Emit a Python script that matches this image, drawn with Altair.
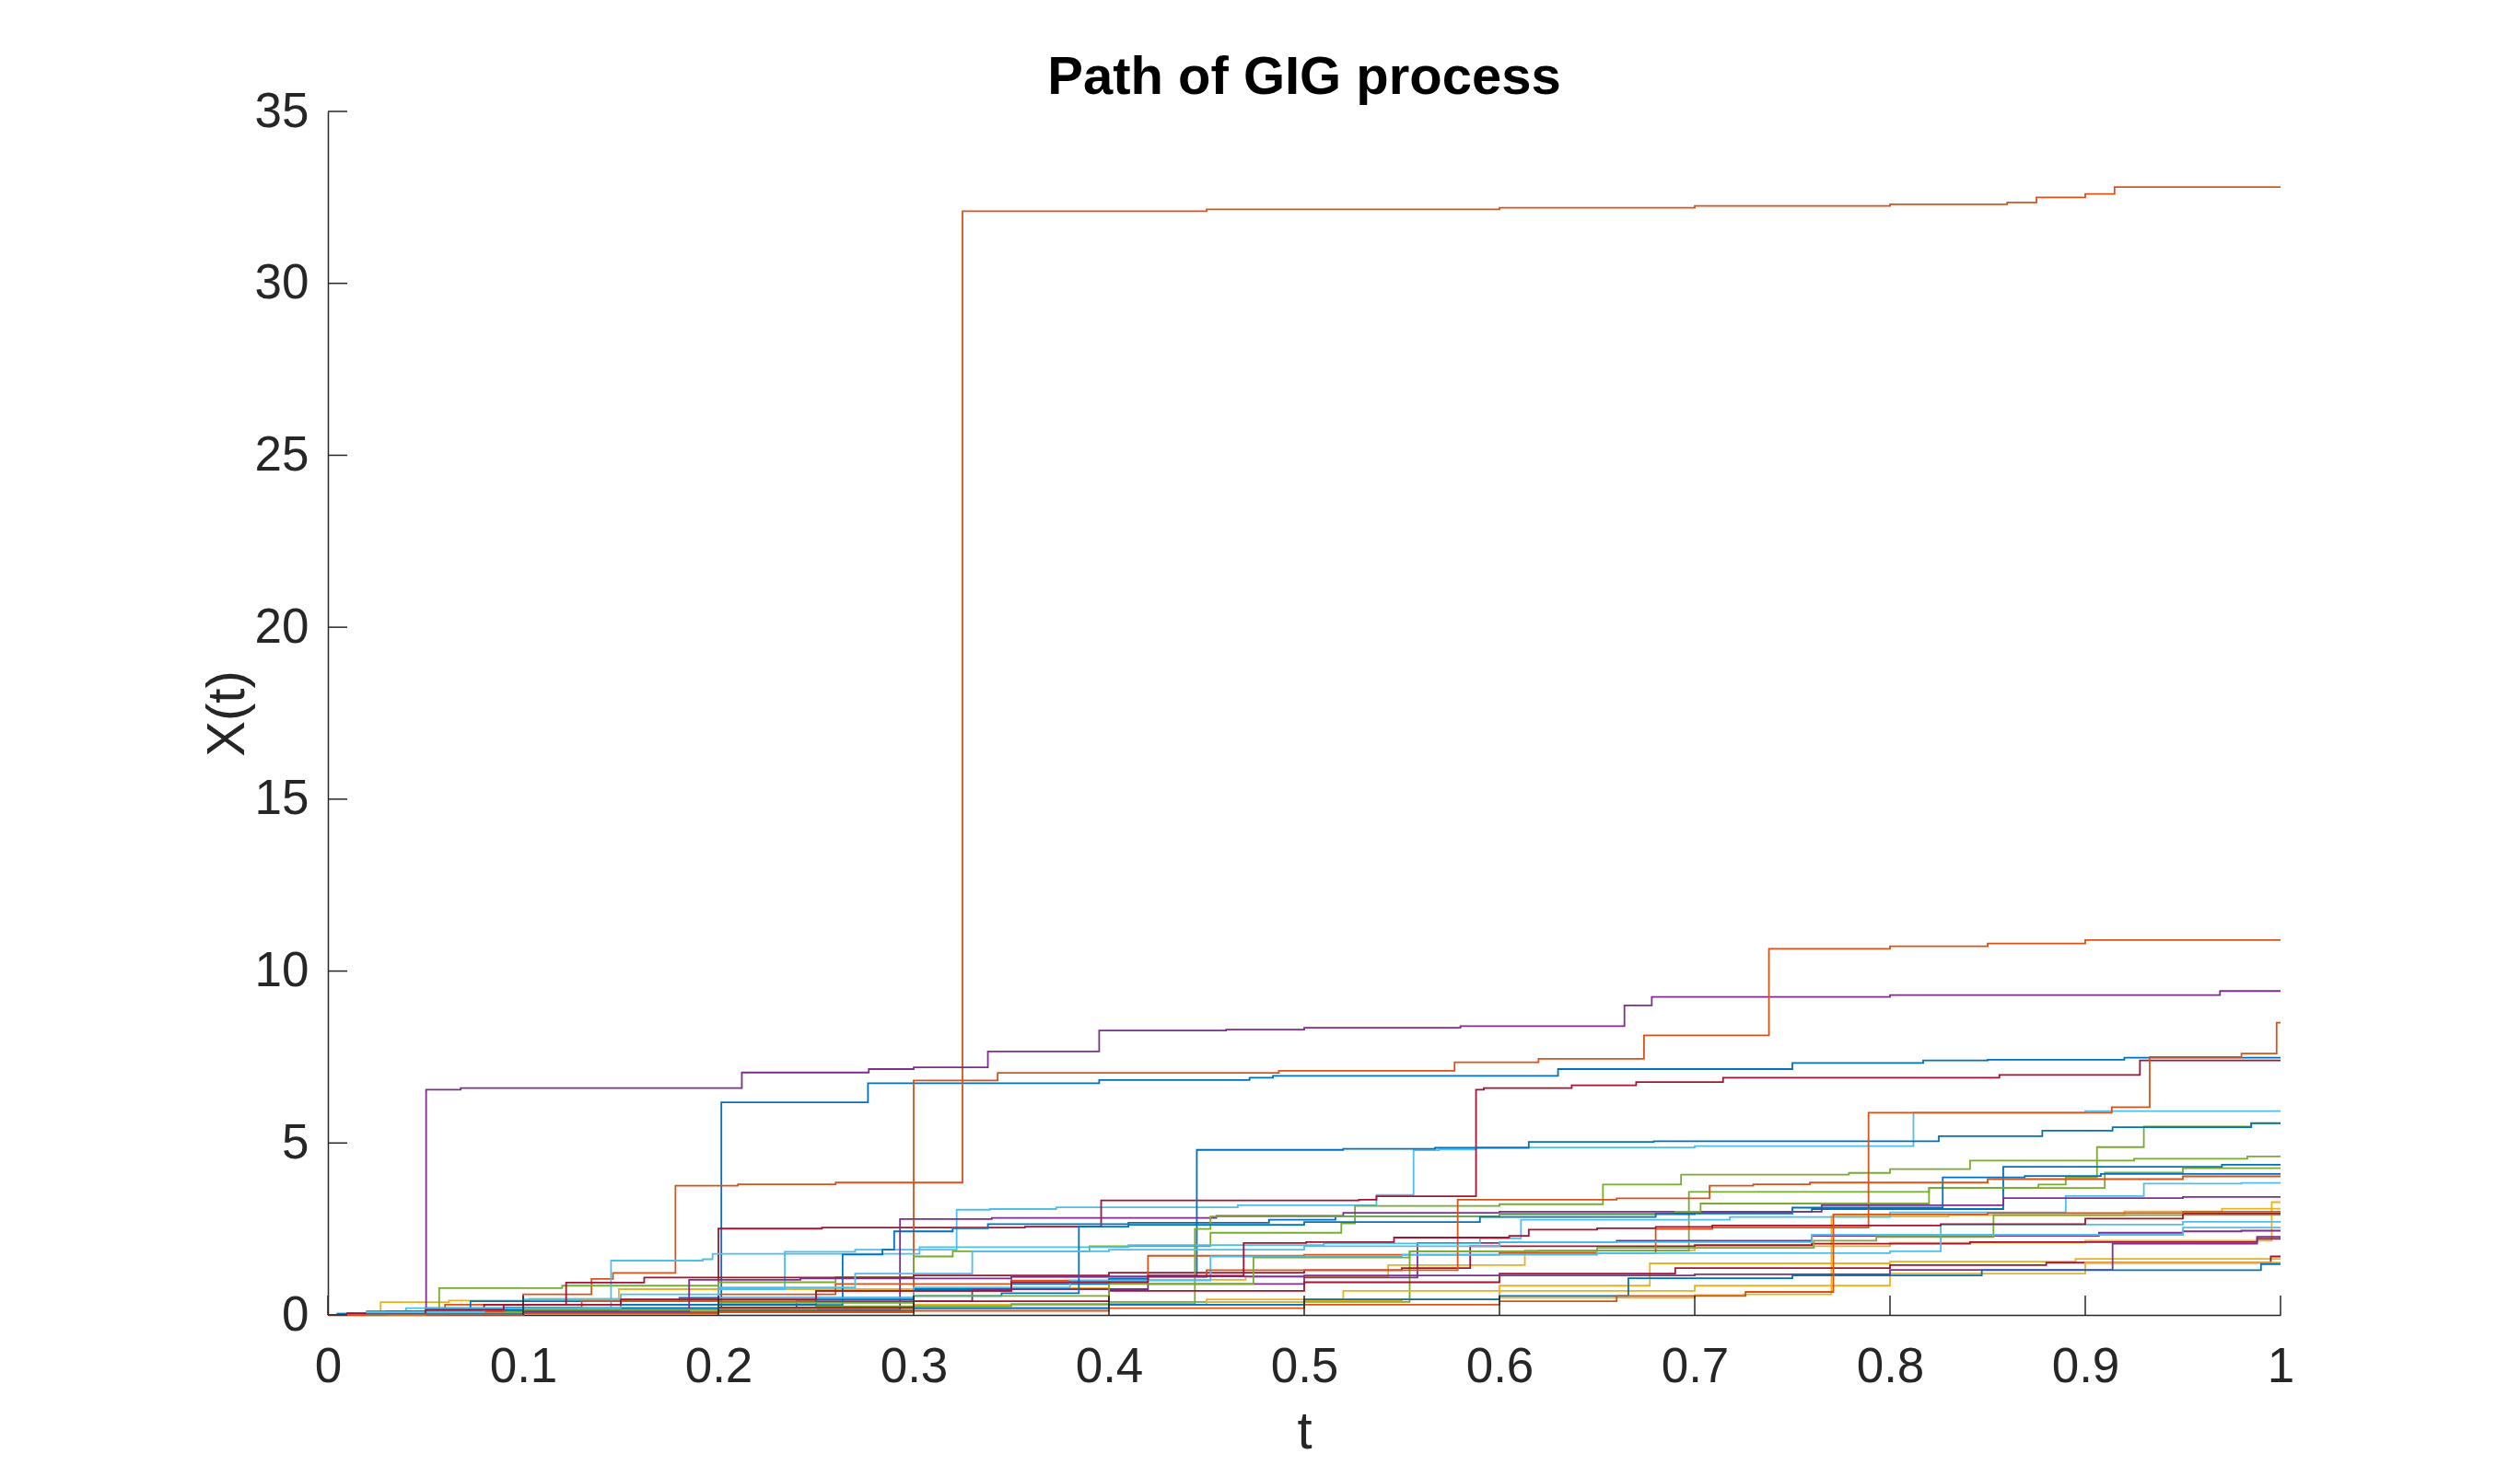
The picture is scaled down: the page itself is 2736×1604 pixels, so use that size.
import altair as alt
import pandas as pd

FONT = "Liberation Sans, Arial, Helvetica, sans-serif"
COLORS = ["#0072BD", "#D95319", "#EDB120", "#7E2F8E", "#77AC30", "#4DBEEE", "#A2142F"]

X_TICKS = [0, 0.1, 0.2, 0.3, 0.4, 0.5, 0.6, 0.7, 0.8, 0.9, 1]
Y_TICKS = [0, 5, 10, 15, 20, 25, 30, 35]

# jump times (t) and value after each jump (v), one pair of lists per path
p01_t = [0.02, 0.09, 0.15, 0.2015, 0.2766, 0.395, 0.472, 0.484, 0.63, 0.75, 0.817, 0.85, 0.92]
p01_v = [0.05, 0.1, 0.14, 6.18, 6.74, 6.83, 6.9, 6.95, 7.15, 7.33, 7.4, 7.42, 7.48]
p02_t = [0.01, 0.06, 0.1, 0.135, 0.146, 0.178, 0.21, 0.26, 0.325, 0.45, 0.6, 0.7, 0.8, 0.86, 0.875, 0.9, 0.915]
p02_v = [0.05, 0.3, 0.6, 1.05, 1.22, 3.76, 3.8, 3.85, 32.1, 32.15, 32.2, 32.25, 32.3, 32.35, 32.5, 32.6, 32.8]
p03_t = [0.005, 0.027, 0.062, 0.103, 0.149, 0.3, 0.4, 0.47, 0.543, 0.613, 0.7, 0.8, 0.9, 0.9955]
p03_v = [0.05, 0.37, 0.42, 0.47, 0.75, 0.78, 1.02, 1.1, 1.45, 1.88, 2.0, 2.1, 2.16, 3.28]
p04_t = [0.005, 0.02, 0.0503, 0.068, 0.212, 0.277, 0.3, 0.338, 0.395, 0.46, 0.5, 0.58, 0.664, 0.678, 0.8, 0.969]
p04_v = [0.02, 0.1, 6.55, 6.6, 7.05, 7.15, 7.2, 7.66, 8.27, 8.3, 8.35, 8.4, 9.0, 9.25, 9.3, 9.42]
p05_t = [0.02, 0.1, 0.2, 0.3, 0.4, 0.554, 0.62, 0.697, 0.82, 0.876, 0.89, 0.906, 0.93, 0.985]
p05_v = [0.05, 0.1, 0.2, 0.3, 0.38, 1.85, 1.87, 3.58, 3.7, 3.79, 4.0, 4.88, 5.48, 5.57]
p06_t = [0.01, 0.04, 0.1, 0.15, 0.2, 0.234, 0.27, 0.322, 0.339, 0.373, 0.466, 0.537, 0.556, 0.569, 0.588, 0.7, 0.812, 0.9]
p06_v = [0.05, 0.2, 0.45, 0.6, 0.75, 1.84, 1.9, 3.06, 3.08, 3.13, 3.19, 3.49, 4.79, 4.81, 4.87, 4.91, 5.88, 5.93]
p07_t = [0.01, 0.1, 0.2, 0.253, 0.357, 0.396, 0.528, 0.537, 0.588, 0.592, 0.637, 0.67, 0.7145, 0.856, 0.928]
p07_v = [0.03, 0.08, 2.51, 2.54, 2.57, 3.33, 3.35, 3.45, 6.55, 6.6, 6.68, 6.77, 6.9, 6.98, 7.4]
p08_t = [0.03, 0.073, 0.18, 0.3, 0.35, 0.4, 0.42, 0.445, 0.52, 0.567, 0.615, 0.679, 0.825, 0.878, 0.914, 0.985]
p08_v = [0.1, 0.4, 0.5, 0.75, 0.9, 1.05, 1.14, 4.8, 4.83, 4.86, 5.03, 5.05, 5.2, 5.36, 5.46, 5.58]
p09_t = [0.02, 0.08, 0.15, 0.22, 0.3, 0.343, 0.487, 0.577, 0.62, 0.674, 0.738, 0.8, 0.85, 0.9]
p09_v = [0.03, 0.08, 0.12, 0.18, 6.82, 7.04, 7.1, 7.35, 7.45, 8.13, 10.65, 10.72, 10.8, 10.9]
p10_t = [0.01, 0.1, 0.2, 0.3, 0.4, 0.45, 0.5, 0.55, 0.6, 0.7, 0.725, 0.77, 0.83, 0.92, 0.97]
p10_v = [0.02, 0.06, 0.12, 0.2, 0.3, 0.38, 0.42, 0.45, 0.5, 0.58, 0.6, 2.86, 2.9, 3.01, 3.09]
p11_t = [0.03, 0.12, 0.24, 0.33, 0.42, 0.5, 0.558, 0.6, 0.66, 0.76, 0.907, 0.95, 0.98]
p11_v = [0.05, 0.2, 0.4, 0.75, 0.9, 1.09, 2.09, 2.12, 2.16, 2.3, 2.39, 2.43, 2.45]
p12_t = [0.005, 0.057, 0.12, 0.2, 0.26, 0.3, 0.32, 0.39, 0.452, 0.519, 0.526, 0.6, 0.653, 0.693, 0.779, 0.8, 0.841, 0.925, 0.983]
p12_v = [0.03, 0.78, 0.85, 0.95, 1.1, 1.7, 1.85, 2.0, 2.39, 2.66, 3.17, 3.22, 3.79, 4.08, 4.13, 4.24, 4.49, 4.54, 4.61]
p13_t = [0.01, 0.06, 0.145, 0.192, 0.197, 0.303, 0.41, 0.51, 0.59, 0.611, 0.718, 0.8, 0.89, 0.93, 0.98]
p13_v = [0.05, 0.15, 1.58, 1.62, 1.78, 1.97, 2.03, 2.08, 2.23, 2.77, 2.85, 2.98, 3.46, 3.82, 3.84]
p14_t = [0.01, 0.05, 0.08, 0.122, 0.162, 0.3, 0.4, 0.5, 0.55, 0.585, 0.7, 0.76, 0.841, 0.988]
p14_v = [0.05, 0.2, 0.3, 0.94, 1.09, 1.15, 1.23, 1.3, 1.36, 2.0, 2.03, 2.07, 2.12, 2.21]
p15_t = [0.005, 0.05, 0.12, 0.2, 0.2636, 0.284, 0.29, 0.32, 0.338, 0.41, 0.482, 0.516, 0.6, 0.7, 0.76, 0.858, 0.97]
p15_v = [0.03, 0.1, 0.2, 0.29, 1.76, 1.9, 2.43, 2.52, 2.64, 2.68, 2.77, 2.86, 2.93, 3.0, 3.08, 4.31, 4.37]
p16_t = [0.02, 0.08, 0.15, 0.25, 0.35, 0.42, 0.5, 0.6, 0.68, 0.709, 0.789, 0.9136, 0.933, 0.98, 0.998]
p16_v = [0.05, 0.2, 0.4, 0.7, 1.0, 1.72, 1.75, 1.8, 2.5, 2.54, 5.88, 6.04, 7.5, 7.6, 8.5]
p17_t = [0.03, 0.1, 0.2, 0.3, 0.45, 0.52, 0.6, 0.677, 0.8, 0.895]
p17_v = [0.05, 0.1, 0.2, 0.3, 0.45, 0.7, 0.85, 1.5, 1.55, 1.63]
p18_t = [0.02, 0.1, 0.2, 0.293, 0.34, 0.455, 0.52, 0.6, 0.765, 0.858, 0.95]
p18_v = [0.02, 0.06, 0.15, 2.79, 2.82, 2.88, 2.97, 3.0, 3.19, 3.4, 3.43]
p19_t = [0.01, 0.06, 0.15, 0.25, 0.35, 0.444, 0.452, 0.6, 0.69, 0.703, 0.82, 0.91, 0.95]
p19_v = [0.02, 0.08, 0.15, 0.25, 0.32, 2.5, 2.86, 2.95, 3.0, 3.24, 3.69, 4.14, 4.27]
p20_t = [0.02, 0.05, 0.1, 0.2, 0.3, 0.38, 0.452, 0.55, 0.65, 0.8, 0.826, 0.95]
p20_v = [0.05, 0.2, 0.3, 0.5, 0.8, 1.0, 1.7, 1.75, 1.8, 1.85, 2.63, 2.71]
p21_t = [0.02, 0.1, 0.2, 0.3, 0.4, 0.5, 0.6, 0.69, 0.8, 0.88, 0.995]
p21_v = [0.03, 0.1, 0.22, 0.4, 0.7, 0.95, 1.2, 1.36, 1.45, 1.52, 1.7]
p22_t = [0.01, 0.08, 0.15, 0.25, 0.3, 0.345, 0.3846, 0.41, 0.5, 0.59, 0.68, 0.75, 0.827, 0.869, 0.908]
p22_v = [0.05, 0.15, 0.3, 0.45, 0.55, 0.63, 2.57, 2.62, 2.7, 2.85, 2.95, 3.12, 4.0, 4.04, 4.1]
p23_t = [0.01, 0.05, 0.09, 0.13, 0.2, 0.26, 0.35, 0.45, 0.5786, 0.66, 0.7076, 0.73, 0.759, 0.85, 0.95]
p23_v = [0.02, 0.1, 0.22, 0.4, 0.6, 0.9, 1.1, 1.3, 3.35, 3.39, 3.76, 3.8, 3.85, 3.95, 4.03]
p24_t = [0.05, 0.15, 0.3, 0.4, 0.5, 0.6, 0.7, 0.8, 0.9]
p24_v = [0.05, 0.12, 0.2, 0.3, 0.45, 0.7, 0.85, 1.2, 1.52]
p25_t = [0.02, 0.1, 0.185, 0.242, 0.35, 0.5, 0.7, 0.8, 0.914, 0.988]
p25_v = [0.03, 0.1, 1.02, 1.06, 1.12, 1.15, 1.18, 1.31, 2.07, 2.27]
p26_t = [0.03, 0.1, 0.2, 0.3, 0.4, 0.474, 0.554, 0.65, 0.761, 0.793, 0.853, 0.95]
p26_v = [0.05, 0.15, 0.35, 0.55, 0.9, 1.67, 1.85, 1.95, 2.16, 2.27, 2.9, 2.91]
p27_t = [0.02, 0.08, 0.15, 0.2, 0.27, 0.33, 0.4, 0.5, 0.6, 0.76, 0.95]
p27_v = [0.08, 0.2, 0.45, 0.8, 1.2, 1.85, 1.9, 2.0, 2.12, 2.33, 2.54]
p28_t = [0.01, 0.05, 0.09, 0.15, 0.25, 0.35, 0.42, 0.469, 0.501, 0.546, 0.605, 0.615, 0.65, 0.68, 0.709, 0.826, 0.9, 0.95]
p28_v = [0.03, 0.15, 0.3, 0.45, 0.7, 0.95, 1.14, 2.09, 2.12, 2.25, 2.3, 2.48, 2.52, 2.56, 2.6, 2.64, 2.8, 2.95]
p29_t = [0.02, 0.1, 0.2, 0.3, 0.4, 0.5, 0.6, 0.666, 0.75, 0.847, 0.99]
p29_v = [0.02, 0.06, 0.12, 0.2, 0.3, 0.45, 0.55, 1.07, 1.15, 1.3, 1.48]
p30_t = [0.02, 0.1, 0.2, 0.3, 0.4, 0.5, 0.6, 0.66, 0.726, 0.771, 0.85, 0.95]
p30_v = [0.01, 0.04, 0.08, 0.12, 0.2, 0.3, 0.4, 0.55, 0.67, 2.92, 2.96, 3.0]

PATHS = [
    (p01_t, p01_v), (p02_t, p02_v), (p03_t, p03_v), (p04_t, p04_v), (p05_t, p05_v),
    (p06_t, p06_v), (p07_t, p07_v), (p08_t, p08_v), (p09_t, p09_v), (p10_t, p10_v),
    (p11_t, p11_v), (p12_t, p12_v), (p13_t, p13_v), (p14_t, p14_v), (p15_t, p15_v),
    (p16_t, p16_v), (p17_t, p17_v), (p18_t, p18_v), (p19_t, p19_v), (p20_t, p20_v),
    (p21_t, p21_v), (p22_t, p22_v), (p23_t, p23_v), (p24_t, p24_v), (p25_t, p25_v),
    (p26_t, p26_v), (p27_t, p27_v), (p28_t, p28_v), (p29_t, p29_v), (p30_t, p30_v),
]

rows = []
names = []
for k, (ts, vs) in enumerate(PATHS, start=1):
    name = f"path {k:02d}"
    names.append(name)
    rows.append({"path": name, "t": 0.0, "v": 0.0, "o": 0})
    for i, (t, v) in enumerate(zip(ts, vs)):
        rows.append({"path": name, "t": t, "v": v, "o": i + 1})
    rows.append({"path": name, "t": 1.0, "v": vs[-1], "o": len(ts) + 1})
df = pd.DataFrame(rows)
path_colors = [COLORS[i % len(COLORS)] for i in range(len(names))]

W, H = 2120, 1307
TICK_LEN = 21
AX = "#262626"

x_scale = alt.Scale(domain=[0, 1], nice=False, zero=False)
y_scale = alt.Scale(domain=[0, 35], nice=False, zero=False)

X_AXIS = alt.Axis(
    values=X_TICKS, format="~g", title="t", ticks=False, tickSize=0, grid=False,
    domainColor=AX, domainWidth=1.5, labelFont=FONT, labelFontSize=53,
    labelColor=AX, labelPadding=30, labelFlush=False, labelOverlap=False,
    titleFont=FONT, titleFontSize=58, titleFontWeight="normal", titleColor=AX,
    titleX=W / 2, titleY=144, titleBaseline="alphabetic")
Y_AXIS = alt.Axis(
    values=Y_TICKS, format="~g", title="X(t)", ticks=False, tickSize=0, grid=False,
    domainColor=AX, domainWidth=1.5, labelFont=FONT, labelFontSize=53,
    labelColor=AX, labelPadding=21, labelFlush=False, labelOverlap=False,
    titleFont=FONT, titleFontSize=58, titleFontWeight="normal", titleColor=AX,
    titleAngle=270, titleX=-92, titleY=H / 2, titleBaseline="alphabetic")

lines = alt.Chart(df).mark_line(interpolate="step-after", strokeWidth=1.8).encode(
    x=alt.X("t:Q", scale=x_scale, axis=X_AXIS),
    y=alt.Y("v:Q", scale=y_scale, axis=Y_AXIS),
    color=alt.Color("path:N", scale=alt.Scale(domain=names, range=path_colors), legend=None),
    order=alt.Order("o:Q"),
)

xticks = alt.Chart(pd.DataFrame({"t": X_TICKS})).mark_rule(color=AX, strokeWidth=1.5).encode(
    x=alt.X("t:Q", scale=x_scale, axis=X_AXIS),
    y=alt.value(H), y2=alt.value(H - TICK_LEN),
)
yticks = alt.Chart(pd.DataFrame({"v": Y_TICKS})).mark_rule(color=AX, strokeWidth=1.5).encode(
    y=alt.Y("v:Q", scale=y_scale, axis=Y_AXIS),
    x=alt.value(0), x2=alt.value(TICK_LEN),
)

chart = alt.layer(lines, xticks, yticks).properties(
    width=W, height=H,
    title=alt.TitleParams("Path of GIG process", font=FONT, fontSize=58, fontWeight="bold",
                          color="#000000", anchor="middle", frame="group",
                          baseline="alphabetic", offset=19, dy=84),
    autosize=alt.AutoSizeParams(type="none"),
    padding={"left": 348, "top": 113, "right": 230, "bottom": 160},
).configure(background="#ffffff").configure_view(stroke=None)

chart.save("out.html", embed_options={"renderer": "svg", "actions": False})
